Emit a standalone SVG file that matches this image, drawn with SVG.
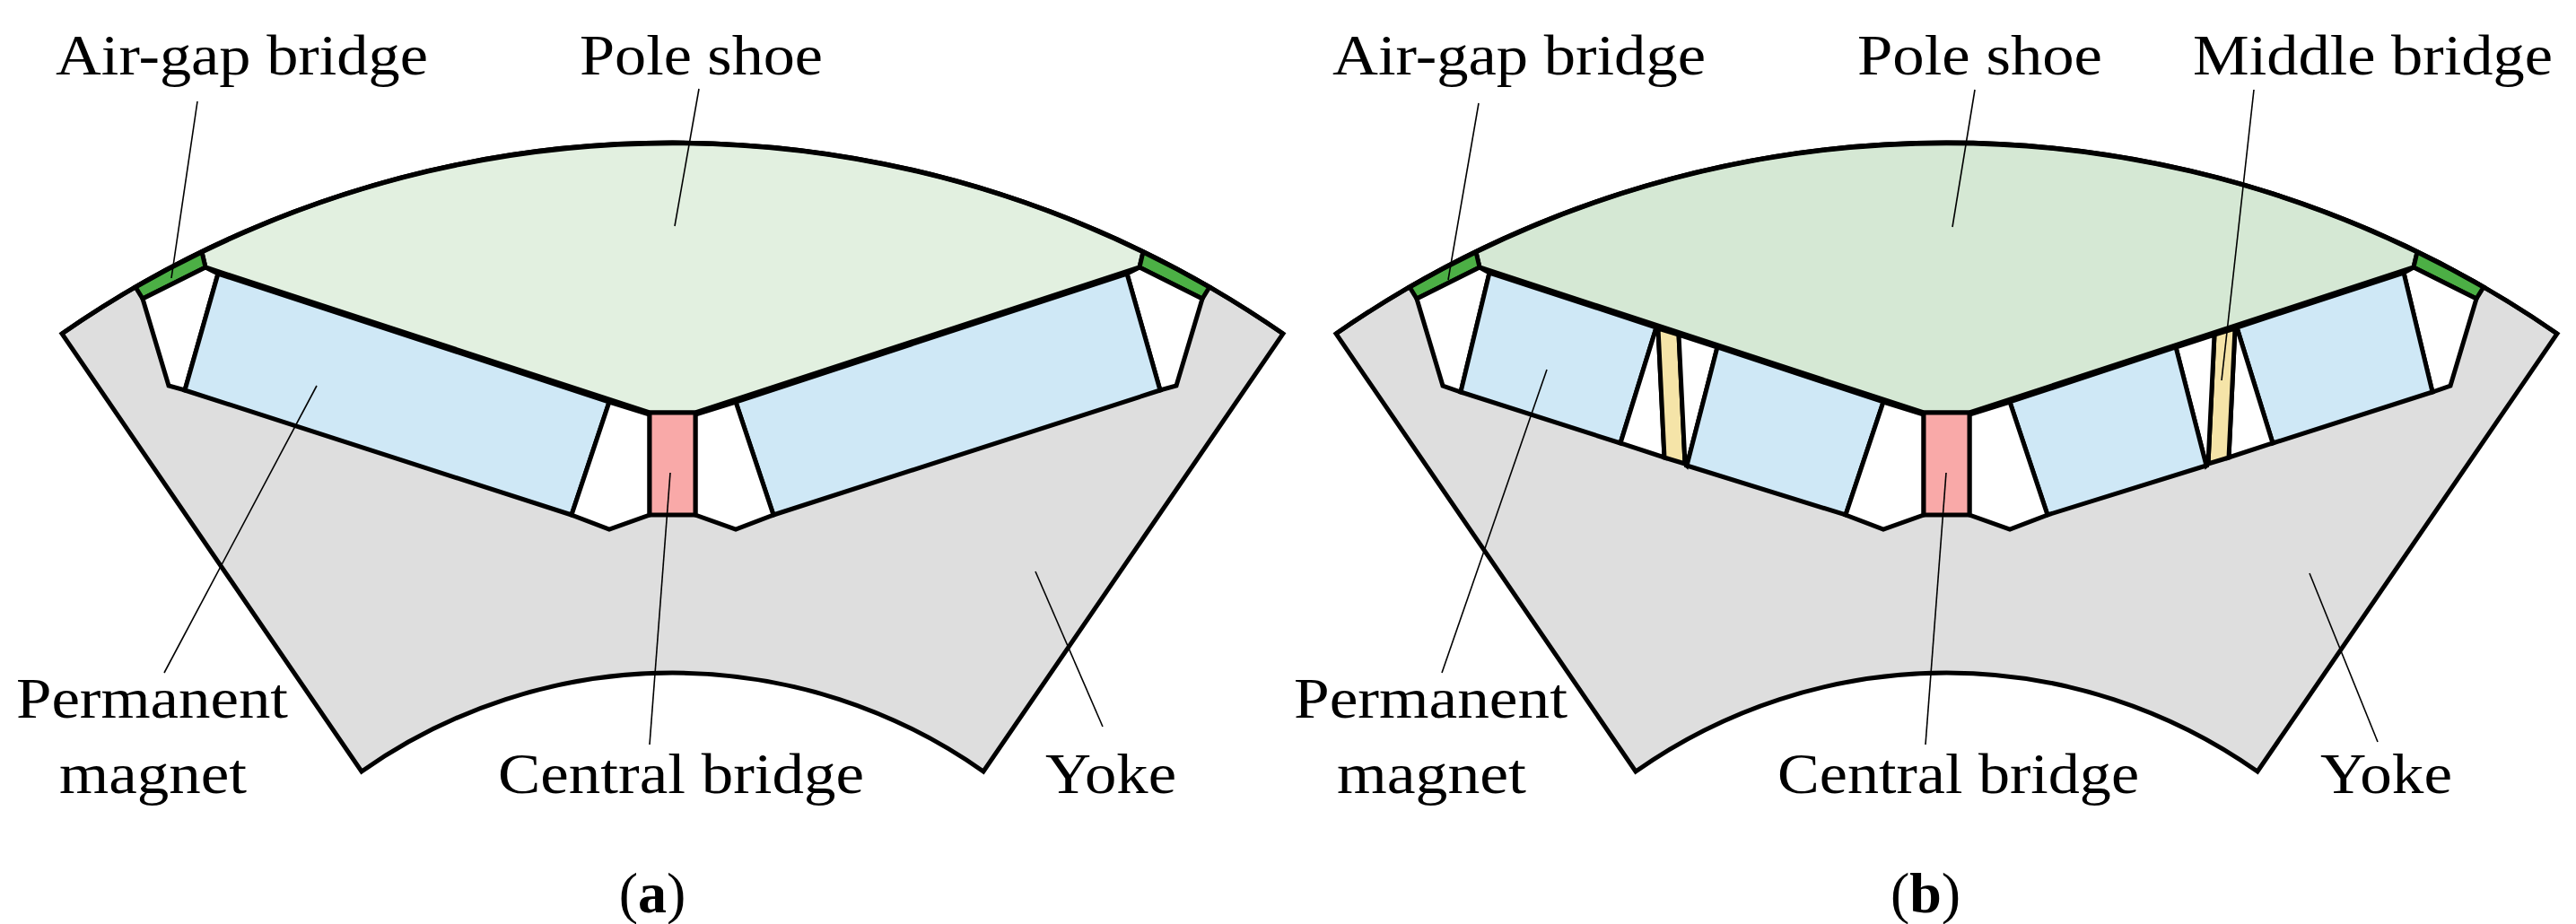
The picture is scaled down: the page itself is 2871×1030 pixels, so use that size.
<svg xmlns="http://www.w3.org/2000/svg" xmlns:xlink="http://www.w3.org/1999/xlink" width="2871" height="1030" viewBox="0 0 2871 1030">
<style>
.o{stroke:#000;stroke-width:5;stroke-linejoin:miter}
.yoke{fill:#dedede}
.hole{fill:#fff}
.mag{fill:#cfe8f6}
.cb{fill:#f9a9a8}
.ag{fill:#4caf45}
.mb{fill:#f5e4a8}
.lead{stroke:#000;stroke-width:1.6;fill:none}
.t{font-family:'Liberation Serif','DejaVu Serif',serif;font-size:64px;fill:#000}
</style>
<defs>
<g id="halfA">
<path class="o ag" d="M151,320 A1194,1194 0 0 1 225,281 L229,298 L159,333 Z"/>
<path class="o hole" d="M159,333 L229,298 L243,305 L206,435 L188,430 Z"/>
<path class="o mag" d="M243,305 L679,448 L637,574 L206,435 Z"/>
<path class="o hole" d="M679,448 L724,462 L724,574 L679,590 L637,574 Z"/>
</g>
<g id="halfB">
<path class="o ag" d="M151,320 A1194,1194 0 0 1 225,281 L229,298 L159,333 Z"/>
<path class="o hole" d="M159,333 L229,298 L240,304 L208,437 L188,430 Z"/>
<path class="o mag" d="M240,304 L426,365 L386,494 L208,437 Z"/>
<path class="o hole" d="M426,365 L428,366 L435,510 L386,494 Z"/>
<path class="o mb" d="M428,366 L451,373 L458,517 L435,510 Z"/>
<path class="o hole" d="M451,373 L494,387 L460,519 L458,517 Z"/>
<path class="o mag" d="M494,387 L679,448 L637,574 L460,519 Z"/>
<path class="o hole" d="M679,448 L724,462 L724,574 L679,590 L637,574 Z"/>
</g>
</defs>

<g id="rotor-a">
<path id="yoke-a" class="o yoke" d="M69,372 A1194,1194 0 0 1 1430,372 L1096,860 A601,601 0 0 0 403,860 Z"/>
<path id="pole-a" class="o" fill="#e2f0e0" d="M225,281 A1194,1194 0 0 1 1274,281 L1270,298 L775,460 L724,460 L229,298 Z"/>
<use xlink:href="#halfA"/>
<use xlink:href="#halfA" transform="translate(1499,0) scale(-1,1)"/>
<rect id="central-a" class="o cb" x="724" y="460" width="51" height="114"/>
<path class="o" fill="none" d="M69,372 A1194,1194 0 0 1 1430,372"/>
</g>

<g id="rotor-b" transform="translate(1420,0)">
<path id="yoke-b" class="o yoke" d="M69,372 A1194,1194 0 0 1 1430,372 L1096,860 A601,601 0 0 0 403,860 Z"/>
<path id="pole-b" class="o" fill="#d5e8d4" d="M225,281 A1194,1194 0 0 1 1274,281 L1270,298 L775,460 L724,460 L229,298 Z"/>
<use xlink:href="#halfB"/>
<use xlink:href="#halfB" transform="translate(1499,0) scale(-1,1)"/>
<rect id="central-b" class="o cb" x="724" y="460" width="51" height="114"/>
<path class="o" fill="none" d="M69,372 A1194,1194 0 0 1 1430,372"/>
</g>

<g id="connectors">
<line class="lead" x1="220" y1="113" x2="191" y2="310"/>
<line class="lead" x1="779" y1="99" x2="752" y2="252"/>
<line class="lead" x1="183" y1="750" x2="353" y2="430"/>
<line class="lead" x1="724" y1="830" x2="747" y2="527"/>
<line class="lead" x1="1229" y1="810" x2="1154" y2="637"/>
<line class="lead" x1="1648" y1="115" x2="1614" y2="312"/>
<line class="lead" x1="2201" y1="100" x2="2176" y2="253"/>
<line class="lead" x1="2512" y1="100" x2="2476" y2="424"/>
<line class="lead" x1="1607" y1="750" x2="1724" y2="412"/>
<line class="lead" x1="2146" y1="830" x2="2169" y2="527"/>
<line class="lead" x1="2650" y1="827" x2="2574" y2="639"/>
</g>

<g id="labels" font-family="'Liberation Serif', 'DejaVu Serif', serif" font-size="64">
<text class="t" x="62" y="83" textLength="415" lengthAdjust="spacingAndGlyphs">Air-gap bridge</text>
<text class="t" x="646" y="83" textLength="271" lengthAdjust="spacingAndGlyphs">Pole shoe</text>
<text class="t" x="18" y="800" textLength="303" lengthAdjust="spacingAndGlyphs">Permanent</text>
<text class="t" x="66" y="884" textLength="209" lengthAdjust="spacingAndGlyphs">magnet</text>
<text class="t" x="555" y="884" textLength="408" lengthAdjust="spacingAndGlyphs">Central bridge</text>
<text class="t" x="1165" y="884" textLength="146" lengthAdjust="spacingAndGlyphs">Yoke</text>
<text class="t" x="727" y="1017" text-anchor="middle">(<tspan font-weight="bold">a</tspan>)</text>
<text class="t" x="1485" y="83" textLength="416" lengthAdjust="spacingAndGlyphs">Air-gap bridge</text>
<text class="t" x="2070" y="83" textLength="273" lengthAdjust="spacingAndGlyphs">Pole shoe</text>
<text class="t" x="2444" y="83" textLength="401" lengthAdjust="spacingAndGlyphs">Middle bridge</text>
<text class="t" x="1442" y="800" textLength="305" lengthAdjust="spacingAndGlyphs">Permanent</text>
<text class="t" x="1490" y="884" textLength="211" lengthAdjust="spacingAndGlyphs">magnet</text>
<text class="t" x="1981" y="884" textLength="403" lengthAdjust="spacingAndGlyphs">Central bridge</text>
<text class="t" x="2586" y="884" textLength="147" lengthAdjust="spacingAndGlyphs">Yoke</text>
<text class="t" x="2146" y="1017" text-anchor="middle">(<tspan font-weight="bold">b</tspan>)</text>
</g>
</svg>
